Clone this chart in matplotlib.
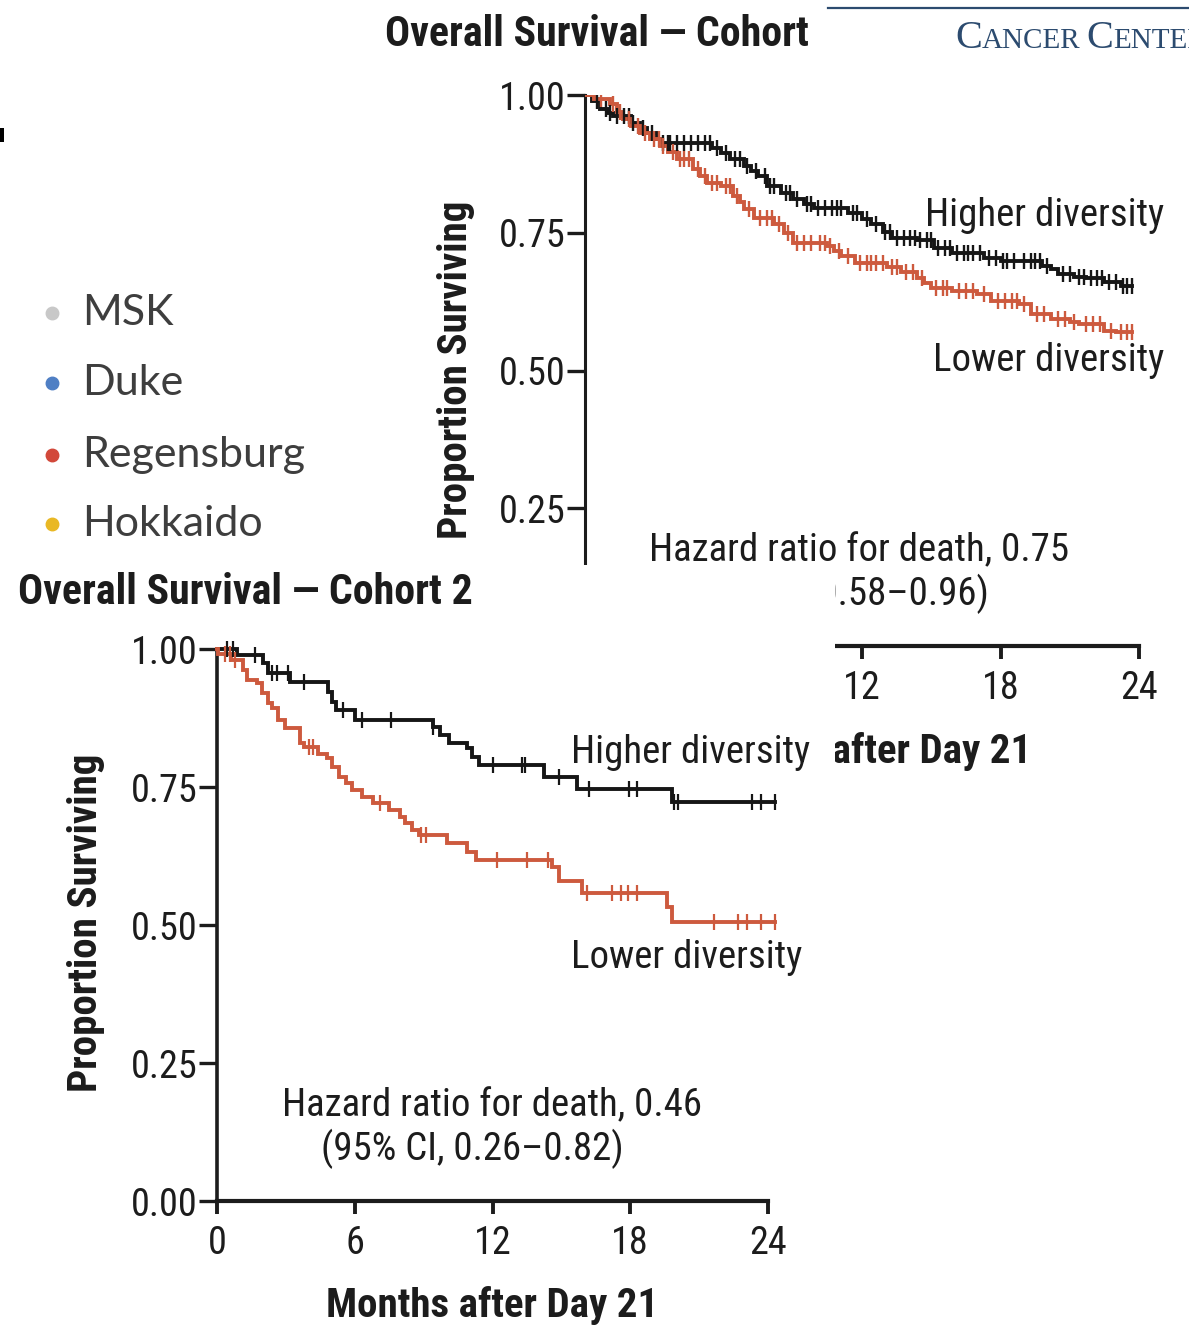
import numpy as np
import matplotlib
matplotlib.use("Agg")
import matplotlib.pyplot as plt
from matplotlib import font_manager
from matplotlib.patches import Rectangle
from matplotlib.lines import Line2D

# ---------------------------------------------------------------- data
# Cohort 1: Kaplan-Meier knots (months, proportion surviving after the step)
c1_high_t = [0, 0.3, 0.65, 1.0, 1.2, 2.0, 2.4, 2.7, 3.1, 3.3, 5.5, 5.9, 6.3, 6.9, 7.2,
             7.5, 7.9, 8.5, 9.0, 9.5, 9.9, 11.4, 12.0, 12.4, 12.9, 13.3, 14.4, 15.1,
             15.9, 17.3, 18.0, 19.8, 20.2, 20.5, 21.2, 21.7, 22.5, 23.2]
c1_high_s = [1.0, 0.990, 0.975, 0.968, 0.962, 0.949, 0.940, 0.931, 0.920, 0.913, 0.904,
             0.895, 0.884, 0.871, 0.862, 0.853, 0.835, 0.822, 0.812, 0.803, 0.795, 0.786,
             0.775, 0.766, 0.752, 0.741, 0.736, 0.723, 0.714, 0.705, 0.699, 0.690, 0.685,
             0.676, 0.670, 0.667, 0.660, 0.654]
c1_high_end = 23.7
c1_high_cens = [0.5, 0.9, 1.1, 1.4, 1.7, 1.9, 2.1, 2.5, 2.9, 3.4, 3.6, 3.7, 4.0, 4.3, 4.6,
                4.9, 5.2, 5.4, 5.7, 6.1, 6.5, 6.7, 7.0, 7.4, 7.8, 8.0, 8.2, 8.7, 8.9, 9.2,
                9.6, 9.8, 10.1, 10.4, 10.7, 10.9, 11.1, 11.6, 11.8, 12.2, 12.6, 13.0,
                13.2, 13.5, 13.8, 14.1, 14.3, 14.5, 14.8, 15.0, 15.3, 15.6, 15.8, 16.1,
                16.4, 16.6, 16.8, 17.1, 17.5, 17.8, 18.1, 18.3, 18.6, 19.0, 19.3, 19.5,
                19.7, 20.0, 20.7, 21.0, 21.4, 21.6, 21.9, 22.2, 22.4, 22.7, 23.0, 23.3,
                23.5, 23.7]

c1_low_t = [0, 0.4, 1.1, 1.4, 1.65, 2.0, 2.4, 2.8, 3.26, 3.6, 4.0, 4.7, 5.0, 5.3, 5.9,
            6.4, 6.7, 6.9, 7.3, 8.2, 8.6, 9.0, 10.5, 10.8, 11.1, 11.7, 13.1, 13.7, 14.4,
            14.7, 15.0, 15.9, 17.0, 17.6, 18.8, 19.3, 20.2, 21.0, 21.4, 22.5, 23.0]
c1_low_s = [1.0, 0.992, 0.984, 0.970, 0.957, 0.944, 0.931, 0.920, 0.908, 0.896, 0.884,
            0.866, 0.853, 0.841, 0.835, 0.817, 0.805, 0.793, 0.777, 0.765, 0.750, 0.732,
            0.726, 0.717, 0.708, 0.696, 0.687, 0.678, 0.668, 0.659, 0.650, 0.645, 0.639,
            0.627, 0.621, 0.603, 0.594, 0.588, 0.585, 0.572, 0.569]
c1_low_end = 23.7
c1_low_cens = [0.7, 1.2, 1.5, 1.9, 2.3, 2.6, 3.0, 3.2, 3.4, 3.8, 4.1, 4.3, 4.5, 4.9, 5.2,
               5.5, 5.7, 6.1, 6.3, 6.6, 7.1, 7.6, 7.9, 8.1, 8.4, 8.8, 9.2, 9.5, 9.8, 10.2,
               10.4, 10.6, 11.0, 11.4, 11.9, 12.2, 12.4, 12.6, 12.9, 13.3, 13.5, 13.9,
               14.2, 14.6, 15.2, 15.5, 15.7, 16.2, 16.5, 16.8, 17.3, 17.9, 18.2, 18.5,
               18.7, 19.0, 19.6, 19.9, 20.5, 20.8, 21.2, 21.7, 22.0, 22.3, 22.8, 23.2,
               23.5, 23.7]

# Cohort 2
c2_high_t = [0, 0.87, 2.0, 2.2, 3.17, 4.83, 5.0, 5.2, 6.0, 9.4, 9.7, 10.1, 10.9, 11.1,
             11.4, 14.26, 15.7, 19.8]
c2_high_s = [1.0, 0.989, 0.975, 0.957, 0.940, 0.922, 0.904, 0.889, 0.871, 0.859, 0.844,
             0.829, 0.821, 0.805, 0.790, 0.768, 0.746, 0.723]
c2_high_end = 24.3
c2_high_cens = [0.43, 0.7, 1.65, 2.4, 2.6, 3.1, 3.8, 5.5, 6.3, 7.6, 9.4, 12.0, 13.3, 13.4,
                14.9, 16.2, 17.96, 18.3, 19.9, 20.1, 23.3, 23.7, 24.3]

c2_low_t = [0, 0.05, 0.6, 1.15, 1.3, 1.75, 1.95, 2.2, 2.4, 2.65, 2.95, 3.6, 3.8, 4.4, 4.8,
            5.0, 5.3, 5.6, 5.9, 6.3, 6.8, 7.5, 7.95, 8.2, 8.5, 8.8, 10.0, 10.9, 11.3,
            14.6, 14.9, 15.9, 19.6, 19.8]
c2_low_s = [1.0, 0.991, 0.980, 0.962, 0.944, 0.938, 0.920, 0.902, 0.893, 0.871, 0.857,
            0.830, 0.822, 0.810, 0.803, 0.786, 0.768, 0.757, 0.745, 0.732, 0.721, 0.708,
            0.696, 0.685, 0.672, 0.663, 0.649, 0.632, 0.618, 0.605, 0.580, 0.558, 0.533,
            0.505]
c2_low_end = 24.3
c2_low_cens = [0.35, 0.55, 0.8, 4.0, 4.2, 7.1, 8.9, 9.1, 12.2, 13.5, 14.4, 16.1, 17.2,
               17.6, 17.9, 18.3, 21.65, 22.7, 23.1, 23.7, 24.3]

x_ticks = [0, 6, 12, 18, 24]
y_ticks = [0.0, 0.25, 0.50, 0.75, 1.00]
y_tick_labels = ["0.00", "0.25", "0.50", "0.75", "1.00"]

sites = ["MSK", "Duke", "Regensburg", "Hokkaido"]
site_colors = ["#c8c8c8", "#4f7fc4", "#d2483a", "#e9b824"]

# ---------------------------------------------------------------- style
def first_font(families):
    for fam in families:
        try:
            font_manager.findfont(fam, fallback_to_default=False)
            return fam
        except ValueError:
            continue
    return "DejaVu Sans"

COND = first_font(["Liberation Sans Narrow", "Roboto Condensed", "Lato"])
if COND == "Liberation Sans Narrow":
    SZ_TICK, SZ_TEXT, SZ_BOLD, SZ_TITLE = 28, 30, 30, 30.5
elif COND == "Roboto Condensed":
    SZ_TICK, SZ_TEXT, SZ_BOLD, SZ_TITLE = 27.5, 28, 29.5, 30.2
else:
    SZ_TICK, SZ_TEXT, SZ_BOLD, SZ_TITLE = 23, 25, 25, 25.5
SANS = first_font(["Lato", "Open Sans", "DejaVu Sans"])
SERIF = first_font(["Liberation Serif", "DejaVu Serif"])

INK = "#1c1c1c"
RED = "#cd5a3e"
BLACK = "#161616"
BLUE_HDR = "#2c4b6f"

W, H = 1189, 1326
fig = plt.figure(figsize=(W / 100, H / 100), dpi=100)
fig.patch.set_facecolor("white")


def fx(px):
    return px / W


def fy(py):
    return 1 - py / H


def km_value(t_knots, s_knots, t):
    idx = np.searchsorted(t_knots, t, side="right") - 1
    return np.asarray(s_knots)[idx]


def draw_km(ax, t, s, end, cens, color, lw, msize, mew, clip=True):
    tt = list(t) + [end]
    ss = list(s) + [s[-1]]
    ax.step(tt, ss, where="post", color=color, lw=lw, solid_joinstyle="miter",
            clip_on=clip, zorder=3)
    cy = km_value(t, s, np.array(cens))
    ax.plot(cens, cy, linestyle="none", marker="|", markersize=msize,
            markeredgewidth=mew, color=color, clip_on=clip, zorder=4)


def style_axes(ax):
    for side in ("top", "right"):
        ax.spines[side].set_visible(False)
    ax.spines["left"].set_linewidth(2.2)
    ax.spines["bottom"].set_linewidth(3.0)
    ax.spines["left"].set_color(INK)
    ax.spines["bottom"].set_color(INK)
    ax.set_xlim(0, 24)
    ax.set_ylim(0, 1)
    ax.set_xticks(x_ticks)
    ax.set_yticks(y_ticks)
    ax.set_yticklabels(y_tick_labels)
    ax.tick_params(axis="y", direction="out", length=13, width=2.4, pad=1,
                   colors=INK, labelsize=SZ_TICK)
    ax.tick_params(axis="x", direction="out", length=9, width=2.8, pad=8,
                   colors=INK, labelsize=SZ_TICK)
    for lab in ax.get_xticklabels() + ax.get_yticklabels():
        lab.set_fontfamily(COND)
    ax.patch.set_alpha(0)


label_kw = dict(fontfamily=COND, fontsize=SZ_TEXT, color=INK)
bold_kw = dict(fontfamily=COND, fontsize=SZ_BOLD, color=INK, fontweight="bold")
title_kw = dict(fontfamily=COND, fontsize=SZ_TITLE, color=INK, fontweight="bold")

# ---------------------------------------------------------------- cohort 1
ax1 = fig.add_axes([fx(585), fy(646), (1139 - 585) / W, (646 - 95) / H])
ax1.set_zorder(0)
style_axes(ax1)
draw_km(ax1, c1_high_t, c1_high_s, c1_high_end, c1_high_cens, BLACK, 2.8, 11, 1.7)
draw_km(ax1, c1_low_t, c1_low_s, c1_low_end, c1_low_cens, RED, 2.8, 11, 1.7)
ax1.text(25.1, 0.781, "Higher diversity", ha="right", va="center", clip_on=False, **label_kw)
ax1.text(25.1, 0.518, "Lower diversity", ha="right", va="center", clip_on=False, **label_kw)
ax1.text(11.87, 0.172, "Hazard ratio for death, 0.75", ha="center", va="center", **label_kw)
ax1.text(17.5, 0.094, "(95% CI, 0.58\u20130.96)", ha="right", va="center", **label_kw)
ax1.text(-0.233, 0.501, "Proportion Surviving", rotation=90, ha="center", va="center",
         transform=ax1.transAxes, **bold_kw)
ax1.text(0.505, -0.192, "Months after Day 21", ha="center", va="center",
         transform=ax1.transAxes, **bold_kw)
fig.text(fx(385), fy(35), "Overall Survival \u2014 Cohort", ha="left", va="center", **title_kw)

# white panel carrying the second cohort
fig.add_artist(Rectangle((0, 0), fx(835), fy(565), transform=fig.transFigure,
                         facecolor="white", edgecolor="none", zorder=1))

# ---------------------------------------------------------------- cohort 2
ax2 = fig.add_axes([fx(217), fy(1201), (768 - 217) / W, (1201 - 649) / H])
ax2.set_zorder(2)
style_axes(ax2)
ax2.spines["left"].set_linewidth(2.6)
draw_km(ax2, c2_high_t, c2_high_s, c2_high_end, c2_high_cens, BLACK, 2.8, 11, 1.6,
        clip=False)
draw_km(ax2, c2_low_t, c2_low_s, c2_low_end, c2_low_cens, RED, 2.8, 11, 1.6, clip=False)
ax2.text(15.43, 0.813, "Higher diversity", ha="left", va="center", clip_on=False, **label_kw)
ax2.text(15.43, 0.442, "Lower diversity", ha="left", va="center", clip_on=False, **label_kw)
ax2.text(12.0, 0.172, "Hazard ratio for death, 0.46", ha="center", va="center", **label_kw)
ax2.text(11.1, 0.094, "(95% CI, 0.26\u20130.82)", ha="center", va="center", **label_kw)
ax2.text(-0.238, 0.504, "Proportion Surviving", rotation=90, ha="center", va="center",
         transform=ax2.transAxes, **bold_kw)
ax2.text(0.499, -0.190, "Months after Day 21", ha="center", va="center",
         transform=ax2.transAxes, **bold_kw)
fig.text(fx(18), fy(593), "Overall Survival \u2014 Cohort 2", ha="left", va="center",
         zorder=5, **title_kw)

# ---------------------------------------------------------------- site key
site_y = [313, 383, 455, 524]
for name, col, yy in zip(sites, site_colors, site_y):
    fig.add_artist(Line2D([fx(52)], [fy(yy)], marker="o", markersize=9, color=col,
                          linestyle="none", transform=fig.transFigure))
    fig.text(fx(82), fy(yy), name, ha="left", va="center", fontfamily=SANS,
             fontsize=31, color="#3e3e3e")

# small mark at the left edge
fig.add_artist(Rectangle((0, fy(142)), fx(4), 14 / H, transform=fig.transFigure,
                         facecolor="black", edgecolor="none"))

# ---------------------------------------------------------------- header
fig.add_artist(Line2D([fx(828), 1.0], [fy(8), fy(8)], color=BLUE_HDR, lw=1.6,
                      transform=fig.transFigure))
renderer = fig.canvas.get_renderer()
x_cursor = 955
for piece, size in [("C", 29), ("ANCER", 21), ("C", 29), ("ENTER", 21)]:
    t = fig.text(fx(x_cursor), fy(48), piece, ha="left", va="baseline",
                 fontfamily=SERIF, fontsize=size, color=BLUE_HDR)
    x_cursor += t.get_window_extent(renderer).width
    if piece == "ANCER":
        x_cursor += 6

fig.savefig("out.png", dpi=100, facecolor="white")
